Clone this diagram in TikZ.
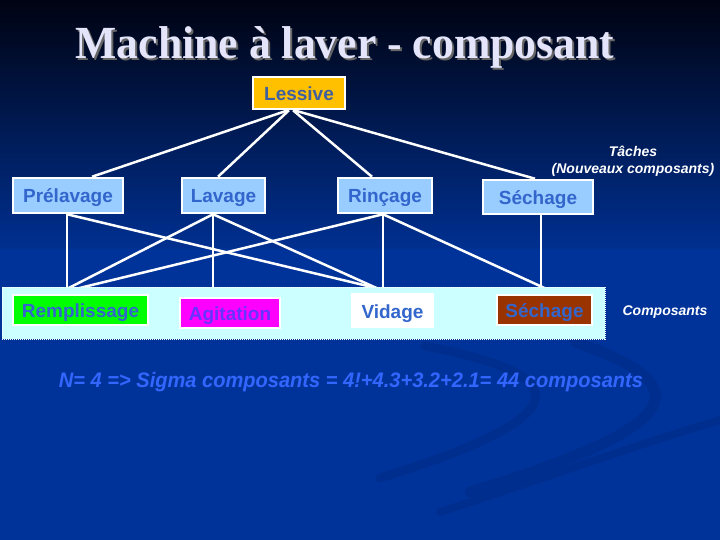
\documentclass[tikz,border=0pt]{standalone}
\usepackage{fontspec}
\setmainfont{Liberation Sans}
\newfontfamily\titlefont{Liberation Serif}
\pgfdeclarelayer{bglayer}
\pgfdeclarelayer{linelayer}
\pgfdeclarelayer{contlayer}
\pgfsetlayers{bglayer,linelayer,contlayer,main}
\definecolor{taskfill}{RGB}{153,204,255}
\definecolor{tasktext}{RGB}{51,102,204}
\definecolor{lesfill}{RGB}{255,192,0}
\definecolor{lestext}{RGB}{64,96,160}
\definecolor{contfill}{RGB}{204,255,255}
\definecolor{agfill}{RGB}{255,0,255}
\definecolor{remfill}{RGB}{0,255,0}
\definecolor{agtext}{RGB}{102,51,255}
\definecolor{sechfill}{RGB}{153,51,0}
\definecolor{formulacol}{RGB}{51,102,255}
\definecolor{titlecol}{RGB}{228,228,250}
\definecolor{bgtop}{RGB}{0,3,18}
\definecolor{bgmid}{RGB}{0,48,145}
\definecolor{bgbot}{RGB}{0,51,153}
\definecolor{swirlcol}{RGB}{0,36,120}
\tikzset{
  box/.style={draw=white, line width=2.5pt, inner sep=0pt,
    font=\fontsize{19}{22}\selectfont\bfseries, text=tasktext,
    text height=15pt, text depth=0pt},
  taskbox/.style={box, fill=taskfill},
  conn/.style={draw=white, line width=2.5pt},
  note/.style={font=\fontsize{14}{17}\selectfont\bfseries\itshape, text=white, align=center},
  swirl/.style={draw=swirlcol, line cap=round, opacity=0.3},
}
\begin{document}
\begin{tikzpicture}[x=1pt,y=-1pt]
\useasboundingbox (0,0) rectangle (720,540);
\begin{pgfonlayer}{bglayer}
  \fill[top color=bgtop, bottom color=bgmid] (0,0) rectangle (720,250);
  \fill[bgbot] (0,249) rectangle (720,540);
  \draw[swirl, line width=9pt] (425,346) .. controls (560,372) and (600,410) .. (380,478);
  \draw[swirl, line width=11pt] (575,342) .. controls (700,385) and (690,425) .. (470,492);
  \draw[swirl, line width=8pt] (720,420) .. controls (620,450) and (540,480) .. (440,512);
\end{pgfonlayer}

% title
\node[font=\titlefont\fontsize{46}{50}\selectfont\bfseries, text=black!60, xscale=0.95] (titleshadow) at (347,49) {Machine à laver - composant};
\node[font=\titlefont\fontsize{46}{50}\selectfont\bfseries, text=titlecol, xscale=0.95] (title) at (345,47) {Machine à laver - composant};

% root
\node[box, fill=lesfill, text=lestext, minimum width=92pt, minimum height=32pt] (les) at (299,93) {Lessive};

% tasks
\node[taskbox, minimum width=110pt, minimum height=35pt] (prel) at (68,195.5) {Prélavage};
\node[taskbox, minimum width=83pt, minimum height=35pt] (lav) at (223.5,195.5) {Lavage};
\node[taskbox, minimum width=94pt, minimum height=35pt] (rin) at (385,195.5) {Rinçage};
\node[taskbox, minimum width=110pt, minimum height=34pt] (secht) at (538,197) {Séchage};

% container
\begin{pgfonlayer}{contlayer}
  \node[draw=white, densely dotted, line width=1pt, fill=contfill, minimum width=603pt, minimum height=52pt, inner sep=0pt] (cont) at (303.5,313) {};
\end{pgfonlayer}

% components
\node[box, fill=remfill, minimum width=135pt, minimum height=30pt] (rem) at (80.5,310) {Remplissage};
\node[box, fill=agfill, text=agtext, minimum width=100pt, minimum height=30pt] (agi) at (230,313) {Agitation};
\node[box, fill=white, minimum width=81pt, minimum height=33pt] (vid) at (392.5,310.5) {Vidage};
\node[box, fill=sechfill, minimum width=95pt, minimum height=30pt] (sechc) at (544.5,310) {Séchage};

% labels
\node[note] (taches) at (633,161) {Tâches\\(Nouveaux composants)};
\node[note] (compl) at (665,312) {Composants};
\node[font=\fontsize{21}{24}\selectfont\bfseries\itshape, text=formulacol, xscale=0.955] (formula) at (351,382) {N= 4 => Sigma composants = 4!+4.3+3.2+2.1= 44 composants};

% connectors
\begin{pgfonlayer}{linelayer}
  \draw[conn] ([xshift=-11pt]les.south) -- ([xshift=24pt]prel.north);
  \draw[conn] ([xshift=-10pt]les.south) -- ([xshift=-5.5pt]lav.north);
  \draw[conn] ([xshift=-6pt]les.south) -- ([xshift=-13pt]rin.north);
  \draw[conn] ([xshift=-5pt]les.south) -- ([xshift=-3pt]secht.north);

  \draw[conn] ([xshift=-1pt]prel.south) -- ([xshift=-13.5pt]rem.north);
  \draw[conn] ([xshift=-1pt]prel.south) -- ([xshift=3.5pt]vid.north);
  \draw[conn] ([xshift=-10.5pt]lav.south) -- ([xshift=-23pt]rem.north);
  \draw[conn] ([xshift=-10.5pt]lav.south) -- ([xshift=-17pt]agi.north);
  \draw[conn] ([xshift=-10.5pt]lav.south) -- ([xshift=-5.5pt]vid.north);
  \draw[conn] ([xshift=-2pt]rin.south) -- ([xshift=-24.5pt]rem.north);
  \draw[conn] ([xshift=-2pt]rin.south) -- ([xshift=-9.5pt]vid.north);
  \draw[conn] ([xshift=-2pt]rin.south) -- ([xshift=12.5pt]sechc.north);
  \draw[conn] ([xshift=3pt]secht.south) -- ([xshift=-3.5pt]sechc.north);
\end{pgfonlayer}
\end{tikzpicture}
\end{document}
